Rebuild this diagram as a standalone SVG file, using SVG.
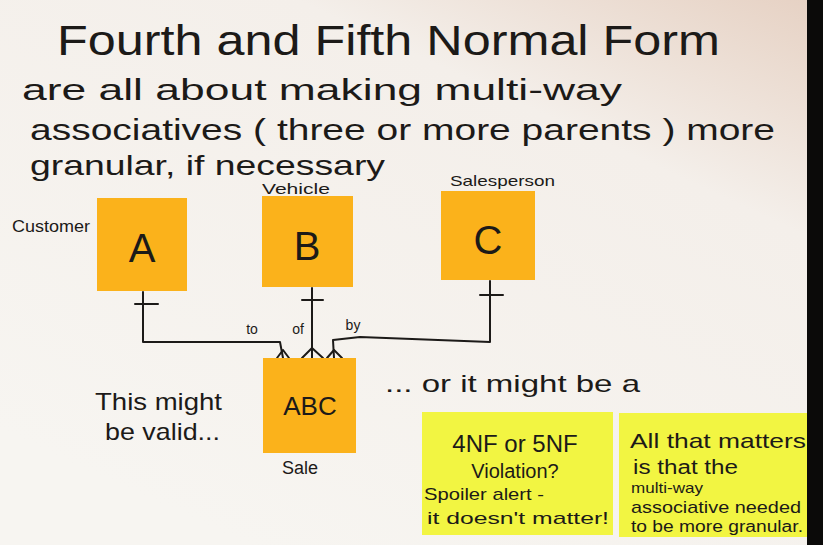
<svg xmlns="http://www.w3.org/2000/svg" width="823" height="545" viewBox="0 0 823 545">
<defs>
<linearGradient id="bg" x1="0.3" y1="1" x2="1" y2="0">
<stop offset="0" stop-color="#f7f5f1"/>
<stop offset="0.7" stop-color="#f4efea"/>
<stop offset="1" stop-color="#e6d1c3"/>
</linearGradient>
<style>
.hw{font-family:"Liberation Sans","Noto Sans",sans-serif;fill:#1c1a18;}
.ln{fill:none;stroke:#1c1a18;stroke-width:2;stroke-linecap:round;stroke-linejoin:round;}
.orange{fill:#fbb21b;}
.yellow{fill:#f2f542;}
</style>
</defs>
<rect x="0" y="0" width="823" height="545" fill="url(#bg)"/>
<rect x="807" y="0" width="16" height="545" fill="#0b0a09"/>

<g id="title">
<text class="hw" x="57" y="55" font-size="42" textLength="663" lengthAdjust="spacingAndGlyphs">Fourth and Fifth Normal Form</text>
<text class="hw" x="22" y="100" font-size="30" textLength="600" lengthAdjust="spacingAndGlyphs">are all about making multi-way</text>
<text class="hw" x="30" y="140" font-size="30" textLength="745" lengthAdjust="spacingAndGlyphs">associatives ( three or more parents ) more</text>
<text class="hw" x="30" y="175" font-size="28" textLength="355" lengthAdjust="spacingAndGlyphs">granular, if necessary</text>
</g>

<g id="connectors">
<path class="ln" d="M143,292 V342 H280 L283,358"/>
<path class="ln" d="M135,304 H158"/>
<path class="ln" d="M283,350 L277,358 M283,350 L289,358"/>
<path class="ln" d="M312,288 V358"/>
<path class="ln" d="M302,300 H323"/>
<path class="ln" d="M312,348 L302,358 M312,348 L323,358"/>
<path class="ln" d="M490,281 V342 L360,337 L333,340 L334,358"/>
<path class="ln" d="M480,295 H503"/>
<path class="ln" d="M334,350 L327,358 M334,350 L342,358"/>
<text class="hw" x="252" y="334" font-size="14" text-anchor="middle">to</text>
<text class="hw" x="298" y="334" font-size="14" text-anchor="middle">of</text>
<text class="hw" x="353" y="330" font-size="14" text-anchor="middle">by</text>
</g>

<g id="nodeA">
<rect class="orange" x="97" y="198" width="90" height="93" fill="#f9a91a"/>
<text class="hw" x="142" y="262" font-size="40" text-anchor="middle">A</text>
<text class="hw" x="12" y="232" font-size="17" textLength="78" lengthAdjust="spacingAndGlyphs">Customer</text>
</g>
<g id="nodeB">
<rect class="orange" x="262" y="196" width="91" height="91"/>
<text class="hw" x="307" y="260" font-size="40" text-anchor="middle">B</text>
<text class="hw" x="262" y="194" font-size="14" textLength="68" lengthAdjust="spacingAndGlyphs">Vehicle</text>
</g>
<g id="nodeC">
<rect class="orange" x="441" y="191" width="94" height="89" fill="#fbb51d"/>
<text class="hw" x="488" y="254" font-size="40" text-anchor="middle">C</text>
<text class="hw" x="450" y="186" font-size="15" textLength="105" lengthAdjust="spacingAndGlyphs">Salesperson</text>
</g>
<g id="nodeABC">
<rect class="orange" x="263" y="358" width="93" height="95"/>
<text class="hw" x="310" y="415" font-size="26" text-anchor="middle">ABC</text>
<text class="hw" x="300" y="474" font-size="18" text-anchor="middle">Sale</text>
</g>

<g id="noteValid">
<text class="hw" x="95" y="410" font-size="24" textLength="127" lengthAdjust="spacingAndGlyphs">This might</text>
<text class="hw" x="105" y="440" font-size="24" textLength="115" lengthAdjust="spacingAndGlyphs">be valid...</text>
</g>
<g id="noteOr">
<text class="hw" x="385" y="392" font-size="24" textLength="255" lengthAdjust="spacingAndGlyphs">... or it might be a</text>
</g>

<g id="noteViolation">
<rect class="yellow" x="422" y="412" width="191" height="123"/>
<text class="hw" x="515" y="452" font-size="24" text-anchor="middle">4NF or 5NF</text>
<text class="hw" x="515" y="478" font-size="20" text-anchor="middle">Violation?</text>
<text class="hw" x="424" y="500" font-size="17" textLength="120" lengthAdjust="spacingAndGlyphs">Spoiler alert -</text>
<text class="hw" x="427" y="524" font-size="17" textLength="182" lengthAdjust="spacingAndGlyphs">it doesn't matter!</text>
</g>

<g id="noteMatters">
<rect class="yellow" x="619" y="413" width="188" height="124"/>
<text class="hw" x="630" y="448" font-size="21" textLength="176" lengthAdjust="spacingAndGlyphs">All that matters</text>
<text class="hw" x="633" y="474" font-size="20" textLength="105" lengthAdjust="spacingAndGlyphs">is that the</text>
<text class="hw" x="631" y="493" font-size="15" textLength="72" lengthAdjust="spacingAndGlyphs">multi-way</text>
<text class="hw" x="631" y="513" font-size="17" textLength="170" lengthAdjust="spacingAndGlyphs">associative needed</text>
<text class="hw" x="631" y="532" font-size="16" textLength="172" lengthAdjust="spacingAndGlyphs">to be more granular.</text>
</g>
</svg>
